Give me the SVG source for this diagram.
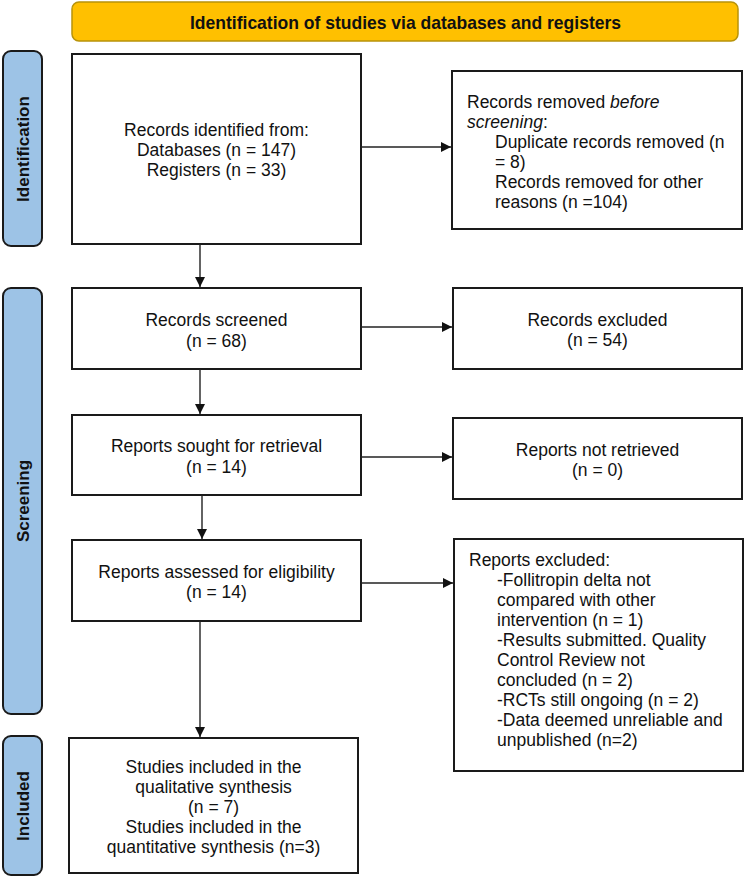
<svg xmlns="http://www.w3.org/2000/svg" width="744" height="877" viewBox="0 0 744 877">
<defs>
<style>
.box{fill:#fff;stroke:#1a1a1a;stroke-width:2}
.lab{fill:#9dc3e6;stroke:#1a1a1a;stroke-width:2}
.t{font-family:"Liberation Sans",Arial,sans-serif;font-size:17.5px;fill:#111}
.c{text-anchor:middle}
.v{font-family:"Liberation Sans",Arial,sans-serif;font-size:17px;font-weight:bold;fill:#111;text-anchor:middle}
.ln{stroke:#222;stroke-width:1.4;fill:none;marker-end:url(#ah)}
</style>
<marker id="ah" viewBox="0 0 10 10" refX="10" refY="5" markerWidth="10" markerHeight="10" markerUnits="userSpaceOnUse" orient="auto">
<path d="M0,0 L10,5 L0,10 Z" fill="#111"/>
</marker>
</defs>
<rect width="744" height="877" fill="#fff"/>
<g id="header">
<rect x="72" y="2" width="666" height="39" rx="7" fill="#ffc000" stroke="#b8930a" stroke-width="1.5"/>
<text x="405.5" y="28.5" font-family="'Liberation Sans Narrow','Liberation Sans',Arial,sans-serif" font-size="19" font-weight="bold" text-anchor="middle" textLength="431" lengthAdjust="spacingAndGlyphs" fill="#111">Identification of studies via databases and registers</text>
</g>
<g id="label-identification">
<rect class="lab" x="3" y="51" width="39" height="195" rx="8"/>
<text class="v" transform="translate(28.5,149) rotate(-90)">Identification</text>
</g>
<g id="label-screening">
<rect class="lab" x="3" y="288" width="39" height="426" rx="8"/>
<text class="v" transform="translate(28.5,501) rotate(-90)">Screening</text>
</g>
<g id="label-included">
<rect class="lab" x="3" y="736" width="39" height="139" rx="8"/>
<text class="v" transform="translate(28.5,806) rotate(-90)">Included</text>
</g>
<g id="records-identified">
<rect class="box" x="72" y="54" width="289" height="190"/>
<text class="t c" x="216.5" y="136">Records identified from:</text>
<text class="t c" x="216.5" y="156">Databases (n = 147)</text>
<text class="t c" x="216.5" y="176">Registers (n = 33)</text>
</g>
<g id="records-removed">
<rect class="box" x="452" y="71" width="290" height="158"/>
<text class="t" x="467" y="108">Records removed <tspan font-style="italic">before</tspan></text>
<text class="t" x="467" y="128"><tspan font-style="italic">screening</tspan>:</text>
<text class="t" x="495" y="148">Duplicate records removed (n</text>
<text class="t" x="495" y="168">= 8)</text>
<text class="t" x="495" y="188">Records removed for other</text>
<text class="t" x="495" y="208">reasons (n =104)</text>
</g>
<g id="records-screened">
<rect class="box" x="72" y="288" width="289" height="81"/>
<text class="t c" x="216.5" y="326">Records screened</text>
<text class="t c" x="216.5" y="347">(n = 68)</text>
</g>
<g id="records-excluded">
<rect class="box" x="453" y="288" width="289" height="81"/>
<text class="t c" x="597.5" y="326">Records excluded</text>
<text class="t c" x="597.5" y="346">(n = 54)</text>
</g>
<g id="reports-sought">
<rect class="box" x="72" y="415" width="289" height="80"/>
<text class="t c" x="216.5" y="452">Reports sought for retrieval</text>
<text class="t c" x="216.5" y="473">(n = 14)</text>
</g>
<g id="reports-not-retrieved">
<rect class="box" x="453" y="418" width="289" height="81"/>
<text class="t c" x="597.5" y="456">Reports not retrieved</text>
<text class="t c" x="597.5" y="476">(n = 0)</text>
</g>
<g id="reports-assessed">
<rect class="box" x="72" y="540" width="289" height="81"/>
<text class="t c" x="216.5" y="578">Reports assessed for eligibility</text>
<text class="t c" x="216.5" y="598">(n = 14)</text>
</g>
<g id="reports-excluded">
<rect class="box" x="454" y="539" width="289" height="232"/>
<text class="t" x="469" y="566">Reports excluded:</text>
<text class="t" x="497" y="586">-Follitropin delta not</text>
<text class="t" x="497" y="606">compared with other</text>
<text class="t" x="497" y="626">intervention (n = 1)</text>
<text class="t" x="497" y="646">-Results submitted. Quality</text>
<text class="t" x="497" y="666">Control Review not</text>
<text class="t" x="497" y="686">concluded (n = 2)</text>
<text class="t" x="497" y="706">-RCTs still ongoing (n = 2)</text>
<text class="t" x="497" y="726">-Data deemed unreliable and</text>
<text class="t" x="497" y="746">unpublished (n=2)</text>
</g>
<g id="studies-included">
<rect class="box" x="69" y="738" width="289" height="135"/>
<text class="t c" x="213.5" y="773">Studies included in the</text>
<text class="t c" x="213.5" y="793">qualitative synthesis</text>
<text class="t c" x="213.5" y="813">(n = 7)</text>
<text class="t c" x="213.5" y="833">Studies included in the</text>
<text class="t c" x="213.5" y="853">quantitative synthesis (n=3)</text>
</g>
<g id="connectors">
<line class="ln" x1="361" y1="147" x2="451" y2="147"/>
<line class="ln" x1="200" y1="244" x2="200" y2="287"/>
<line class="ln" x1="361" y1="327" x2="452" y2="327"/>
<line class="ln" x1="200" y1="369" x2="200" y2="414"/>
<line class="ln" x1="361" y1="457" x2="452" y2="457"/>
<line class="ln" x1="202" y1="495" x2="202" y2="539"/>
<line class="ln" x1="361" y1="583" x2="453" y2="583"/>
<line class="ln" x1="200" y1="621" x2="200" y2="737"/>
</g>
</svg>
